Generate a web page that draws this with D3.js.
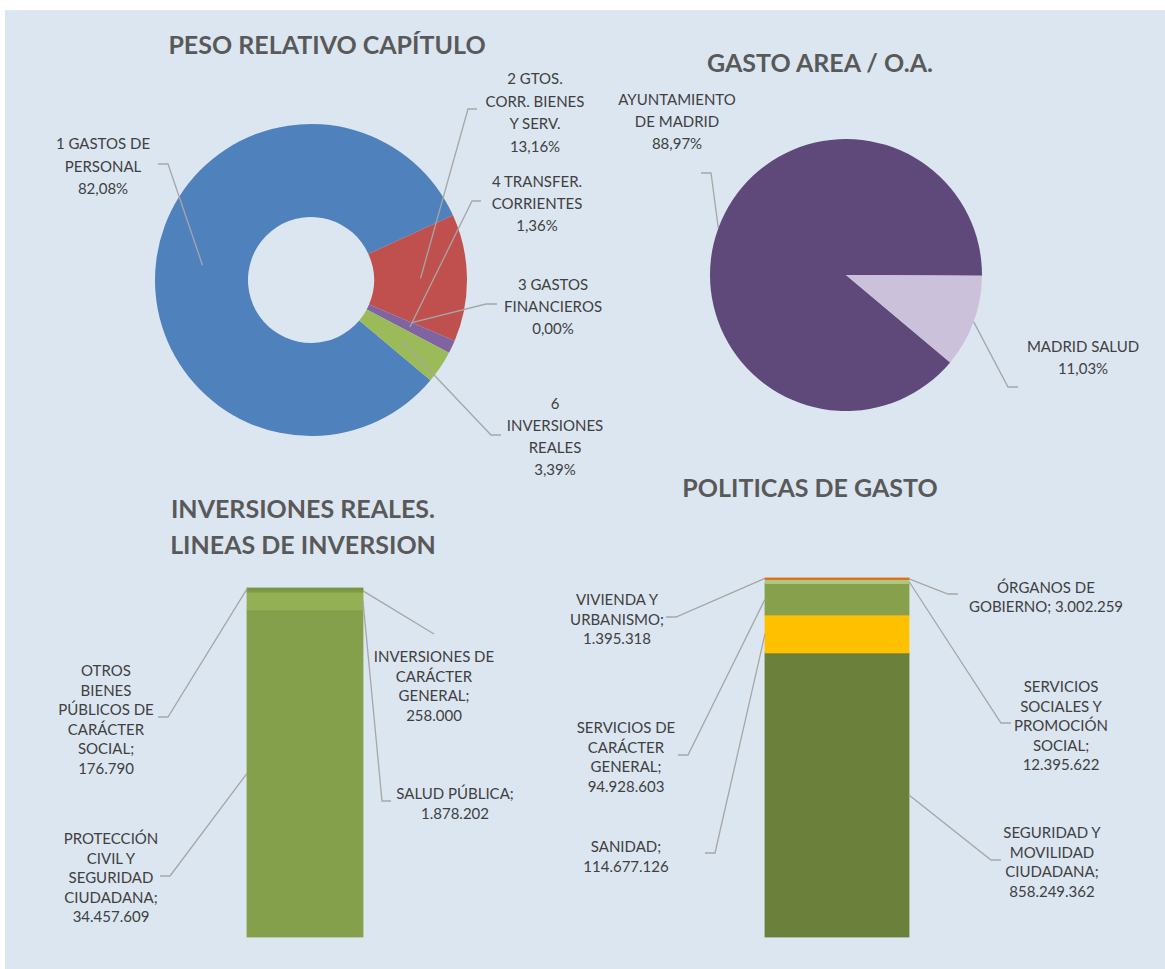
<!DOCTYPE html>
<html>
<head>
<meta charset="utf-8">
<script src="https://cdn.jsdelivr.net/npm/d3@7"></script>
<style>
  body { margin: 0; background: #ffffff; }
  svg text { font-family: Lato, "Open Sans", sans-serif; }
  .title { font-weight: 700; fill: #595959; font-size: 25px; }
  .lbl { fill: #404040; font-size: 15px; }
  .leader { fill: none; stroke: #a6a6a6; stroke-width: 1.3; }
</style>
</head>
<body>
<svg id="chart" width="1165" height="969"></svg>
<script>
// --- data ---
var CAPITULOS = ["1 GASTOS DE\nPERSONAL", "2 GTOS.\nCORR. BIENES\nY SERV.", "3 GASTOS\nFINANCIEROS", "4 TRANSFER.\nCORRIENTES", "6\nINVERSIONES\nREALES"];
var CAPITULOS_PCT = [82.08, 13.16, 0.00, 1.36, 3.39];

var AREAS = ["AYUNTAMIENTO\nDE MADRID", "MADRID SALUD"];
var AREAS_PCT = [88.97, 11.03];

// stacked from the bottom up
var LINEAS = ["PROTECCIÓN\nCIVIL Y\nSEGURIDAD\nCIUDADANA", "SALUD PÚBLICA", "INVERSIONES DE\nCARÁCTER\nGENERAL", "OTROS\nBIENES\nPÚBLICOS DE\nCARÁCTER\nSOCIAL"];
var LINEAS_VAL = [34457609, 1878202, 258000, 176790];

var POLITICAS = ["SEGURIDAD Y\nMOVILIDAD\nCIUDADANA", "SANIDAD", "SERVICIOS DE\nCARÁCTER\nGENERAL", "SERVICIOS\nSOCIALES Y\nPROMOCIÓN\nSOCIAL", "ÓRGANOS DE\nGOBIERNO", "VIVIENDA Y\nURBANISMO"];
var POLITICAS_VAL = [858249362, 114677126, 94928603, 12395622, 3002259, 1395318];

// --- styles ---
var CAP_COLORS = ["#4f81bd", "#c0504d", "#9bbb59", "#8064a2", "#9bbb59"];
var AREA_COLORS = ["#5f497a", "#ccc1da"];
var LINEA_COLORS = ["#84a04b", "#94b055", "#7d9a45", "#789541"];
var POLITICA_COLORS = ["#6a803b", "#ffc000", "#87a04c", "#adc785", "#e46c0a", "#e46c0a"];

// label layout: centre x, first line y, line height, leader start, elbow
var CAP_LAYOUT = [
  {x: 103, y: 143, lh: 22.5, start: [158, 164], elbow: [168, 164]},
  {x: 535, y: 78, lh: 22.5, start: [477, 109], elbow: [468, 109]},
  {x: 553, y: 284, lh: 22, start: [497, 304], elbow: [486, 304]},
  {x: 537, y: 181, lh: 22, start: [481, 201], elbow: [472, 201]},
  {x: 555, y: 403, lh: 22, start: [501, 435], elbow: [491, 435]}
];
var AREA_LAYOUT = [
  {x: 677, y: 99, lh: 22, start: [701, 173], elbow: [711, 173]},
  {x: 1083, y: 346, lh: 22, start: [1018, 387], elbow: [1008, 387]}
];
var LINEA_LAYOUT = [
  {x: 111, y: 838, lh: 19.6, side: "left", start: [160, 876], elbow: [170, 876]},
  {x: 455, y: 793, lh: 19.6, side: "right", start: [391, 801], elbow: [382, 801]},
  {x: 434, y: 656, lh: 19.6, side: "right", start: [434, 634]},
  {x: 106, y: 670, lh: 19.6, side: "left", start: [158, 717], elbow: [168, 717]}
];
var POLITICA_LAYOUT = [
  {x: 1052, y: 832, lh: 19.6, side: "right", start: [1001, 860], elbow: [991, 860]},
  {x: 626, y: 846, lh: 19.6, side: "left", start: [705, 853], elbow: [715, 853]},
  {x: 626, y: 727, lh: 19.6, side: "left", start: [678, 755], elbow: [688, 755]},
  {x: 1061, y: 686, lh: 19.6, side: "right", start: [1011, 723], elbow: [1001, 723]},
  {x: 1046, y: 587, lh: 19, side: "right", start: [958, 594], elbow: [948, 594], inline: true},
  {x: 617, y: 599, lh: 19.6, side: "left", start: [666, 617], elbow: [676, 617]}
];

var es = d3.formatLocale({decimal: ",", thousands: ".", grouping: [3], currency: ["", "€"]});
var fmtNum = es.format(",d");
var fmtPct = es.format(".2f");

var svg = d3.select("#chart");

svg.append("rect")
  .attr("x", 5).attr("y", 10)
  .attr("width", 1160).attr("height", 959)
  .attr("fill", "#dce6f1");

function drawTitle(lines, x, y, lh) {
  lines.forEach(function(t, i) {
    svg.append("text").attr("class", "title")
      .attr("x", x).attr("y", y + i * lh)
      .attr("text-anchor", "middle")
      .attr("dominant-baseline", "central")
      .text(t);
  });
}

function drawLabel(lines, lay, anchor) {
  var pts = [lay.start];
  if (lay.elbow) pts.push(lay.elbow);
  pts.push(anchor);
  svg.append("polyline").attr("class", "leader")
    .attr("points", pts.map(function(p) { return p.join(","); }).join(" "));

  lines.forEach(function(t, i) {
    svg.append("text").attr("class", "lbl")
      .attr("x", lay.x).attr("y", lay.y + i * lay.lh)
      .attr("text-anchor", "middle")
      .attr("dominant-baseline", "central")
      .text(t);
  });
}

// --- PESO RELATIVO CAPÍTULO (doughnut) ---
var START = 130 * Math.PI / 180;
var pie = d3.pie().sort(null).startAngle(START).endAngle(START + 2 * Math.PI);

drawTitle(["PESO RELATIVO CAPÍTULO"], 327, 44, 0);

var g1 = svg.append("g").attr("transform", "translate(311,280)");
var arc1 = d3.arc().innerRadius(63).outerRadius(156);
var capArcs = pie(CAPITULOS_PCT);
g1.selectAll("path").data(capArcs).join("path")
  .attr("d", arc1)
  .attr("fill", function(d, i) { return CAP_COLORS[i]; });

capArcs.forEach(function(d, i) {
  var c = arc1.centroid(d);
  var lines = CAPITULOS[i].split("\n").concat([fmtPct(CAPITULOS_PCT[i]) + "%"]);
  drawLabel(lines, CAP_LAYOUT[i], [311 + c[0], 280 + c[1]]);
});

// --- GASTO AREA / O.A. (pie) ---
drawTitle(["GASTO AREA / O.A."], 820, 62, 0);

var g2 = svg.append("g").attr("transform", "translate(846,275)");
var arc2 = d3.arc().innerRadius(0).outerRadius(136);
var edge2 = d3.arc().innerRadius(136).outerRadius(136);
var areaArcs = pie(AREAS_PCT);
g2.selectAll("path").data(areaArcs).join("path")
  .attr("d", arc2)
  .attr("fill", function(d, i) { return AREA_COLORS[i]; });

areaArcs.forEach(function(d, i) {
  var c = edge2.centroid(d);
  var lines = AREAS[i].split("\n").concat([fmtPct(AREAS_PCT[i]) + "%"]);
  drawLabel(lines, AREA_LAYOUT[i], [846 + c[0], 275 + c[1]]);
});

// --- stacked single bars ---
function drawStack(names, values, colors, layout, xRange, yRange) {
  var x = d3.scaleBand().domain(["total"]).range(xRange).padding(0);
  var y = d3.scaleLinear().domain([0, d3.sum(values)]).range(yRange);
  var acc = 0;
  var segs = values.map(function(v) {
    var s = {y0: acc, y1: acc + v};
    acc += v;
    return s;
  });
  // thin same-colour outline keeps the tiny top segments visible, as in the original
  svg.append("g").selectAll("rect").data(segs).join("rect")
    .attr("x", x("total"))
    .attr("width", x.bandwidth())
    .attr("y", function(d) { return y(d.y1); })
    .attr("height", function(d) { return y(d.y0) - y(d.y1); })
    .attr("fill", function(d, i) { return colors[i]; })
    .attr("stroke", function(d, i) { return colors[i]; })
    .attr("stroke-width", 0.8);

  segs.forEach(function(s, i) {
    var lay = layout[i];
    var ax = lay.side === "left" ? x("total") : x("total") + x.bandwidth();
    var ay = y((s.y0 + s.y1) / 2);
    var nameLines = names[i].split("\n");
    var lines;
    if (lay.inline) {
      lines = nameLines.slice(0, -1).concat([nameLines[nameLines.length - 1] + "; " + fmtNum(values[i])]);
    } else {
      nameLines[nameLines.length - 1] += ";";
      lines = nameLines.concat([fmtNum(values[i])]);
    }
    drawLabel(lines, lay, [ax, ay]);
  });
}

drawTitle(["INVERSIONES REALES.", "LINEAS DE INVERSION"], 303, 508, 36);
drawStack(LINEAS, LINEAS_VAL, LINEA_COLORS, LINEA_LAYOUT, [247, 363], [937, 588]);

drawTitle(["POLITICAS DE GASTO"], 810, 487, 0);
drawStack(POLITICAS, POLITICAS_VAL, POLITICA_COLORS, POLITICA_LAYOUT, [765, 909], [937, 578]);
</script>
</body>
</html>
